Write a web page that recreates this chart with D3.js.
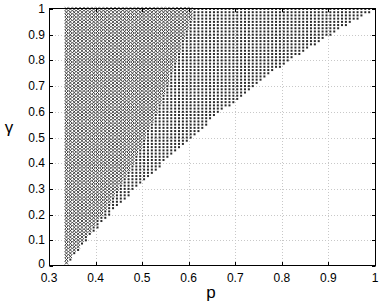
<!DOCTYPE html>
<html><head><meta charset="utf-8">
<script src="https://cdn.jsdelivr.net/npm/d3@7"></script>
<style>body{margin:0;background:#fff}svg{display:block}text{font-family:"Liberation Sans",Arial,sans-serif;fill:#000}</style>
</head><body>
<script>
// Tick labels
const xTicks = [0.3,0.4,0.5,0.6,0.7,0.8,0.9,1];
const yTicks = [0,0.1,0.2,0.3,0.4,0.5,0.6,0.7,0.8,0.9,1];
// Region boundaries (gamma -> largest p in region)
const boundaryGamma = [0,0.1,0.2,0.3,0.4,0.5,0.6,0.7,0.8,0.9,1.0];
const dotEdgeP   = [0.335,0.380,0.430,0.485,0.545,0.605,0.670,0.740,0.815,0.905,1.0];
const crossEdgeP = [0.335,0.373,0.414,0.448,0.480,0.506,0.530,0.552,0.572,0.592,0.612];
// Sampling grid of the scatter
const pStart = 0.3375, pStep = 1/120, pCount = 80;
const gStart = 0.0125, gStep = 0.0125, gCount = 80;

const W=382,H=302;
const x = d3.scaleLinear([0.3,1],[49,375]);
const y = d3.scaleLinear([0,1],[266,9]);
const edgeDot = d3.scaleLinear(boundaryGamma, dotEdgeP);
const edgeCross = d3.scaleLinear(boundaryGamma, crossEdgeP);

const svg = d3.select("body").append("svg").attr("width",W).attr("height",H);

// grid lines
const grid = svg.append("g").attr("stroke","#c8c8c8").attr("stroke-width",1).attr("stroke-dasharray","1,2");
grid.selectAll("line.v").data(xTicks.slice(1,-1)).join("line")
  .attr("x1",d=>Math.round(x(d))+0.5).attr("x2",d=>Math.round(x(d))+0.5).attr("y1",y(1)).attr("y2",y(0));
grid.selectAll("line.h").data(yTicks.slice(1,-1)).join("line")
  .attr("y1",d=>Math.round(y(d))+0.5).attr("y2",d=>Math.round(y(d))+0.5).attr("x1",x(0.3)).attr("x2",x(1));

const pts=[];
for(let j=0;j<gCount;j++){const g=gStart+j*gStep;
  for(let i=0;i<pCount;i++){const p=pStart+i*pStep;
    if(p<=edgeDot(g)+1e-9) pts.push({p,g,cross:p<=edgeCross(g)+1e-9});
  }}

svg.append("g").selectAll("rect").data(pts.filter(d=>!d.cross)).join("rect")
  .attr("x",d=>x(d.p)-1).attr("y",d=>y(d.g)-1).attr("width",2).attr("height",2).attr("fill","#2a2a2a");

const s=1.7;
svg.append("g").attr("stroke","#333").attr("stroke-width",0.9).attr("fill","none")
  .selectAll("path").data(pts.filter(d=>d.cross)).join("path")
  .attr("d",d=>{const cx=x(d.p),cy=y(d.g);return `M${cx-s},${cy-s}L${cx+s},${cy+s}M${cx-s},${cy+s}L${cx+s},${cy-s}`;});

// box
svg.append("rect").attr("x",49.5).attr("y",8.5).attr("width",326).attr("height",257)
  .attr("fill","none").attr("stroke","#000").attr("stroke-width",1);

// ticks inward
const tk=svg.append("g").attr("stroke","#000");
xTicks.forEach(d=>{const X=Math.round(x(d))+0.5;
  tk.append("line").attr("x1",X).attr("x2",X).attr("y1",265.5).attr("y2",262);
  tk.append("line").attr("x1",X).attr("x2",X).attr("y1",8.5).attr("y2",12);});
yTicks.forEach(d=>{const Y=Math.round(y(d))+0.5;
  tk.append("line").attr("y1",Y).attr("y2",Y).attr("x1",49.5).attr("x2",53);
  tk.append("line").attr("y1",Y).attr("y2",Y).attr("x1",375.5).attr("x2",372);});

// labels
svg.append("g").selectAll("text").data(xTicks).join("text")
  .attr("x",d=>x(d)).attr("y",282).attr("text-anchor","middle").attr("font-size",12)
  .text(d=>d3.format("")(d));
svg.append("g").selectAll("text").data(yTicks).join("text")
  .attr("x",45).attr("y",d=>d===0?y(d)+2:y(d)+4).attr("text-anchor","end").attr("font-size",12)
  .text(d=>d3.format("")(d));
svg.append("text").attr("x",211).attr("y",298).attr("text-anchor","middle").attr("font-size",17).text("p");
svg.append("text").attr("x",9).attr("y",133).attr("text-anchor","middle").attr("font-size",17).text("γ");
</script>
</body></html>
